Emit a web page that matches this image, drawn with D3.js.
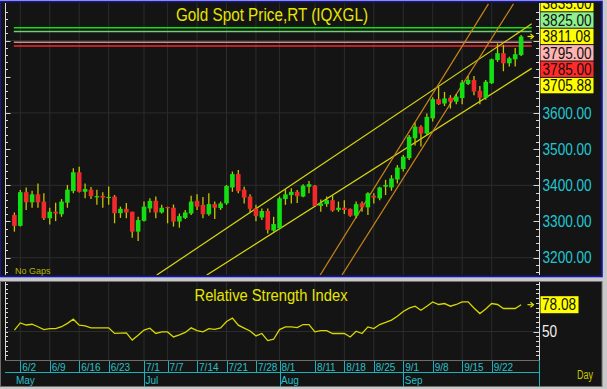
<!DOCTYPE html>
<html>
<head>
<meta charset="utf-8">
<script src="https://cdn.jsdelivr.net/npm/d3@7"></script>
<style>
  body { margin: 0; background: #c8c8c8; }
  svg { display: block; font-family: "Liberation Sans", Arial, sans-serif; }
</style>
</head>
<body>
<script>
// daily candles, open / high / low / close, 5/30 .. 9/29
const opens = [3318,3288,3381,3353,3375,3355,3309,3327,3320,3352,3384,3436,3382,3388,3368,3371,3366,3369,3323,3335,
  3327,3272,3302,3336,3357,3325,3340,3338,3300,3310,3322,3357,3346,3320,3348,3337,3350,3394,3431,3388,
  3369,3336,3311,3329,3275,3281,3362,3373,3382,3369,3396,3399,3343,3348,3359,3332,3338,3335,3316,3350,
  3339,3371,3364,3396,3394,3416,3445,3475,3530,3562,3543,3585,3638,3626,3642,3631,3641,3680,3691,3661,
  3642,3682,3746,3765,3737,3748,3760];
const highs = [3325,3387,3394,3385,3405,3378,3338,3352,3362,3401,3447,3451,3405,3395,3388,3381,3397,3373,3341,3351,
  3327,3313,3355,3364,3369,3346,3341,3347,3322,3332,3371,3375,3368,3378,3355,3355,3401,3438,3442,3396,
  3375,3346,3336,3336,3313,3369,3389,3392,3387,3403,3412,3401,3361,3369,3373,3355,3359,3336,3355,3355,
  3381,3378,3396,3415,3428,3456,3484,3539,3573,3566,3598,3643,3673,3658,3649,3652,3691,3702,3702,3674,
  3691,3750,3792,3788,3755,3779,3815];
const lows = [3272,3286,3332,3338,3338,3304,3292,3301,3313,3338,3378,3380,3364,3362,3346,3338,3346,3295,3310,3309,
  3255,3246,3300,3325,3309,3322,3295,3286,3283,3307,3318,3332,3309,3316,3307,3332,3346,3382,3378,3350,
  3325,3301,3304,3267,3272,3279,3346,3350,3351,3367,3378,3341,3327,3341,3327,3327,3321,3313,3309,3327,
  3318,3350,3359,3373,3385,3405,3438,3470,3510,3507,3539,3576,3622,3619,3612,3624,3624,3677,3649,3624,
  3636,3680,3741,3715,3728,3728,3757];
const closes = [3288,3381,3353,3375,3353,3309,3327,3322,3355,3388,3436,3382,3390,3370,3370,3366,3368,3323,3335,3325,
  3272,3304,3341,3357,3325,3338,3337,3300,3315,3325,3355,3341,3320,3348,3338,3350,3398,3431,3384,3366,
  3335,3315,3329,3277,3293,3364,3375,3382,3370,3399,3403,3343,3350,3359,3330,3338,3332,3316,3348,3339,
  3378,3366,3394,3401,3419,3449,3479,3534,3562,3543,3589,3638,3624,3640,3631,3645,3684,3691,3659,3642,
  3686,3748,3765,3737,3751,3762,3811.08];
const rsiValues = [51.4,59,56.8,57.6,55,52,53,53,55,58.5,62.9,56.6,55.9,53.8,53.8,53.8,53.8,48,48.3,48.5,
  41,46,51.5,53.5,48,49.6,49.6,44.3,46.5,49,53.8,51,49.6,53,52.2,53.8,60.5,64,56.6,53.5,
  50.5,45.4,47.9,40.5,41.9,52,54.8,54.8,54,57.3,57.3,49.6,51,51,47.9,47.9,47.9,44.3,50.3,47.9,
  54.8,53,57.3,59.5,62,66,71,74.5,76.5,72.3,76.5,81,78.3,79.3,76.5,78.3,81,81,74.7,68.8,
  73.5,79.3,78.3,74.1,74.1,74.1,78.08];

const tickDates = ["6/2","6/9","6/16","6/23","7/1","7/7","7/14","7/21","7/28","8/1","8/11","8/18","8/25","9/1","9/8","9/15","9/22"];
const monthNames = ["May","Jul","Aug","Sep"];
const monthStarts = ["5/30","7/1","8/1","9/1"];
const priceTicks = [3200, 3300, 3400, 3500, 3600];
const priceGrid = [3200, 3400, 3600, 3800];
const levelPrices = [3835, 3825, 3795, 3785];
const tagValues = [3835.00, 3825.00, 3811.08, 3795.00, 3785.00, 3705.88];
// trend lines: [start index, start price, end index, end price]
const trendLines = [
  [24.16, 3152, 87.8, 3846],
  [32.65, 3152, 87.8, 3723],
  [51.9, 3152, 80.46, 3901],
  [55.6, 3152, 84.7, 3901]
];

const days = d3.timeDay.range(new Date(2025, 4, 30), new Date(2025, 8, 30))
  .filter(d => d.getDay() !== 0 && d.getDay() !== 6);
const fmt = d3.timeFormat("%-m/%-d");
const dayLabels = days.map(fmt);
const candles = days.map((d, i) => ({ i, o: opens[i], h: highs[i], l: lows[i], c: closes[i] }));

const W = 607, H = 389;
const plot = { left: 5, right: 539, top: 3, bottom: 275 };
const rsiBox = { top: 282, bottom: 360 };

const x = d3.scaleLinear().domain([0, days.length - 1]).range([14.4, 521.1]);
const y = d3.scaleLinear().domain([3200, 3600]).range([257.7, 112.9]);
const yr = d3.scaleLinear().domain([50, 78.08]).range([331.5, 304.7]);

const svg = d3.select("body").append("svg").attr("width", W).attr("height", H);

const defs = svg.append("defs");
defs.append("clipPath").attr("id", "clipMain").append("rect")
  .attr("x", plot.left).attr("y", plot.top)
  .attr("width", plot.right - plot.left).attr("height", plot.bottom - plot.top);
defs.append("clipPath").attr("id", "clipTags").append("rect")
  .attr("x", 539).attr("y", plot.top).attr("width", 62).attr("height", plot.bottom - plot.top);

// panels
svg.append("rect").attr("x", 0).attr("y", 1.5).attr("width", 602).attr("height", 275)
  .attr("fill", "#141414").attr("stroke", "#1414b4").attr("stroke-width", 1.6);
svg.append("rect").attr("x", 0.5).attr("y", 281.5).attr("width", 601.5).attr("height", 105)
  .attr("fill", "#141414").attr("stroke", "#6c6c6c");

// grid
const grid = svg.append("g").attr("stroke", "#2c2c2c").attr("stroke-width", 1);
grid.selectAll(".vg").data(tickDates).join("line")
  .attr("x1", d => x(dayLabels.indexOf(d))).attr("x2", d => x(dayLabels.indexOf(d)))
  .attr("y1", plot.top).attr("y2", plot.bottom);
grid.selectAll(".vr").data(tickDates).join("line").attr("class", "vr")
  .attr("x1", d => x(dayLabels.indexOf(d))).attr("x2", d => x(dayLabels.indexOf(d)))
  .attr("y1", rsiBox.top).attr("y2", rsiBox.bottom);
grid.selectAll(".hg").data(priceGrid).join("line").attr("class", "hg")
  .attr("x1", plot.left).attr("x2", plot.right)
  .attr("y1", d => y(d)).attr("y2", d => y(d));
grid.append("line").attr("x1", plot.left).attr("x2", plot.right)
  .attr("y1", yr(50)).attr("y2", yr(50));

// axes ticks (left and right of price plot)
const minor = d3.range(3160, 3900, 20);
const ax = svg.append("g").attr("stroke", "#d8d8d8").attr("stroke-width", 1);
ax.append("line").attr("x1", 5.5).attr("x2", 5.5).attr("y1", plot.top).attr("y2", plot.bottom);
ax.append("line").attr("x1", 539.5).attr("x2", 539.5).attr("y1", plot.top).attr("y2", plot.bottom);
ax.selectAll(".tl").data(minor).join("line").attr("class", "tl")
  .attr("x1", 5.5).attr("x2", d => d % 100 === 0 ? 10.5 : 8)
  .attr("y1", d => Math.round(y(d)) + 0.5).attr("y2", d => Math.round(y(d)) + 0.5);
ax.selectAll(".tr").data(minor).join("line").attr("class", "tr")
  .attr("x1", 539.5).attr("x2", d => d % 100 === 0 ? 533.5 : 536)
  .attr("y1", d => Math.round(y(d)) + 0.5).attr("y2", d => Math.round(y(d)) + 0.5);
const rsiTicks = d3.range(25, 105, 5).filter(v => yr(v) > rsiBox.top + 1 && yr(v) < rsiBox.bottom - 2);
ax.append("line").attr("x1", 5.5).attr("x2", 5.5).attr("y1", rsiBox.top).attr("y2", rsiBox.bottom);
ax.append("line").attr("x1", 539.5).attr("x2", 539.5).attr("y1", rsiBox.top).attr("y2", rsiBox.bottom);
ax.selectAll(".rl").data(rsiTicks).join("line").attr("class", "rl")
  .attr("x1", 5.5).attr("x2", 8)
  .attr("y1", d => Math.round(yr(d)) + 0.5).attr("y2", d => Math.round(yr(d)) + 0.5);
ax.selectAll(".rr").data(rsiTicks).join("line").attr("class", "rr")
  .attr("x1", 539.5).attr("x2", d => d === 50 ? 533.5 : 536)
  .attr("y1", d => Math.round(yr(d)) + 0.5).attr("y2", d => Math.round(yr(d)) + 0.5);

// title
svg.append("text").attr("x", 272).attr("y", 20.5).attr("text-anchor", "middle")
  .attr("font-size", 18).attr("fill", "#e6e600")
  .attr("textLength", 192).attr("lengthAdjust", "spacingAndGlyphs")
  .text("Gold Spot Price,RT (IQXGL)");

const main = svg.append("g").attr("clip-path", "url(#clipMain)");

// horizontal levels
const levelColors = ["#10e010", "#70d070", "#d08c8c", "#f02a2a"];
main.selectAll(".lvl").data(levelPrices).join("line").attr("class", "lvl")
  .attr("x1", x(-0.1)).attr("x2", x(87.8))
  .attr("y1", d => y(d)).attr("y2", d => y(d))
  .attr("stroke", (d, i) => levelColors[i]).attr("stroke-width", 1.5);

// trend lines
main.selectAll(".trend").data(trendLines).join("line").attr("class", "trend")
  .attr("x1", d => x(d[0])).attr("y1", d => y(d[1]))
  .attr("x2", d => x(d[2])).attr("y2", d => y(d[3]))
  .attr("stroke", (d, i) => i < 2 ? "#d6d610" : "#c88418")
  .attr("stroke-width", 1.2);

// candles
const bw = 4.6;
const cg = main.selectAll(".candle").data(candles).join("g").attr("class", "candle");
cg.append("line")
  .attr("x1", d => x(d.i)).attr("x2", d => x(d.i))
  .attr("y1", d => y(d.h)).attr("y2", d => y(d.l))
  .attr("stroke", "#c4c400").attr("stroke-width", 1.3);
cg.append("rect")
  .attr("x", d => x(d.i) - bw / 2)
  .attr("y", d => y(Math.max(d.o, d.c)))
  .attr("width", bw)
  .attr("height", d => Math.max(1.2, Math.abs(y(d.o) - y(d.c))))
  .attr("fill", d => d.c >= d.o ? "#12e012" : "#f02a2a");

// last price arrow
function arrow(g, x0, yy) {
  g.append("line").attr("x1", x0).attr("x2", x0 + 5).attr("y1", yy).attr("y2", yy)
    .attr("stroke", "#e6e600").attr("stroke-width", 1.2);
  g.append("path").attr("d", `M${x0 + 3},${yy - 2.5}L${x0 + 6},${yy}L${x0 + 3},${yy + 2.5}`)
    .attr("fill", "none").attr("stroke", "#e6e600").attr("stroke-width", 1.2);
}
arrow(svg, 527.5, y(closes[closes.length - 1]));

// "No Gaps"
svg.append("text").attr("x", 15).attr("y", 274).attr("font-size", 9)
  .attr("fill", "#b4b400").text("No Gaps");

// price labels at right
function squeeze(sel, k) {
  sel.each(function () {
    const w = this.getComputedTextLength();
    d3.select(this).attr("textLength", w * k).attr("lengthAdjust", "spacingAndGlyphs");
  });
}
const axisLabels = svg.append("g").selectAll("text").data(priceTicks).join("text")
  .attr("x", 542.5).attr("y", d => y(d)).attr("dy", "0.36em")
  .attr("font-size", 16).attr("fill", "#22c6d2")
  .text(d => d.toFixed(2));
squeeze(axisLabels, 0.85);

// stacked price tags, spread around their mean position
const tagColors = ["#ffff00", "#8ef08e", "#ffff00", "#ffb4b4", "#ff2a2a", "#ffff00"];
const tagH = 16.4;
const rawY = tagValues.map(v => y(v));
const meanY = d3.mean(rawY);
const tagY = tagValues.map((v, i) => meanY + 1.5 + (i - (tagValues.length - 1) / 2) * tagH);
const tags = svg.append("g").attr("clip-path", "url(#clipTags)")
  .selectAll("g").data(tagValues).join("g");
tags.append("rect")
  .attr("x", 540.5).attr("y", (d, i) => tagY[i] - tagH / 2 + 0.5)
  .attr("width", 53).attr("height", tagH - 1)
  .attr("fill", (d, i) => tagColors[i]);
const tagText = tags.append("text")
  .attr("x", 542.5).attr("y", (d, i) => tagY[i]).attr("dy", "0.36em")
  .attr("font-size", 16).attr("fill", "#101010")
  .text(d => d.toFixed(2));
squeeze(tagText, 0.85);

// RSI panel
svg.append("text").attr("x", 271).attr("y", 301).attr("text-anchor", "middle")
  .attr("font-size", 16).attr("fill", "#e6e600")
  .attr("textLength", 153).attr("lengthAdjust", "spacingAndGlyphs")
  .text("Relative Strength Index");

const rsiLine = d3.line().x((d, i) => x(i)).y(d => yr(d));
svg.append("path").datum(rsiValues).attr("d", rsiLine)
  .attr("fill", "none").attr("stroke", "#d6d600").attr("stroke-width", 1.3);
arrow(svg, 527.5, yr(rsiValues[rsiValues.length - 1]));

const lastRsi = rsiValues[rsiValues.length - 1];
svg.append("rect").attr("x", 540.5).attr("y", yr(lastRsi) - 8.5).attr("width", 38).attr("height", 17)
  .attr("fill", "#ffff00");
const rsiTag = svg.append("text").attr("x", 542).attr("y", yr(lastRsi)).attr("dy", "0.36em")
  .attr("font-size", 16).attr("fill", "#101010").text(lastRsi.toFixed(2));
squeeze(rsiTag, 0.85);
const fifty = svg.append("text").attr("x", 542).attr("y", yr(50)).attr("dy", "0.36em")
  .attr("font-size", 16).attr("fill", "#f0f0f0").text("50");
squeeze(fifty, 0.85);

// date axis
const dateAxis = svg.append("g");
dateAxis.append("line").attr("x1", 5).attr("x2", 539).attr("y1", 360.5).attr("y2", 360.5)
  .attr("stroke", "#6c6c6c");
dateAxis.append("line").attr("x1", 5).attr("x2", 539).attr("y1", 372.5).attr("y2", 372.5)
  .attr("stroke", "#18b4bc");
dateAxis.append("line").attr("x1", 539.5).attr("x2", 539.5).attr("y1", 360).attr("y2", 387)
  .attr("stroke", "#18b4bc");
dateAxis.selectAll(".dt").data(tickDates).join("line").attr("class", "dt")
  .attr("x1", d => Math.round(x(dayLabels.indexOf(d))) + 0.5)
  .attr("x2", d => Math.round(x(dayLabels.indexOf(d))) + 0.5)
  .attr("y1", 361).attr("y2", 372)
  .attr("stroke", "#18b4bc");
dateAxis.selectAll(".dl").data(tickDates).join("text").attr("class", "dl")
  .attr("x", d => x(dayLabels.indexOf(d)) + 2).attr("y", 370.5)
  .attr("font-size", 10).attr("fill", "#28c0c8")
  .text(d => d);
dateAxis.selectAll(".ms").data(monthStarts.slice(1)).join("line").attr("class", "ms")
  .attr("x1", d => Math.round(x(dayLabels.indexOf(d))) + 0.5)
  .attr("x2", d => Math.round(x(dayLabels.indexOf(d))) + 0.5)
  .attr("y1", 372).attr("y2", 387)
  .attr("stroke", "#18b4bc");
dateAxis.selectAll(".ml").data(monthNames).join("text").attr("class", "ml")
  .attr("x", (d, i) => x(dayLabels.indexOf(monthStarts[i])) + 1.5).attr("y", 383.5)
  .attr("font-size", 10).attr("fill", "#28c0c8")
  .text(d => d);

svg.append("text").attr("x", 577).attr("y", 378.5).attr("font-size", 12)
  .attr("fill", "#c8c800").attr("textLength", 16).attr("lengthAdjust", "spacingAndGlyphs")
  .text("Day");
</script>
</body>
</html>
